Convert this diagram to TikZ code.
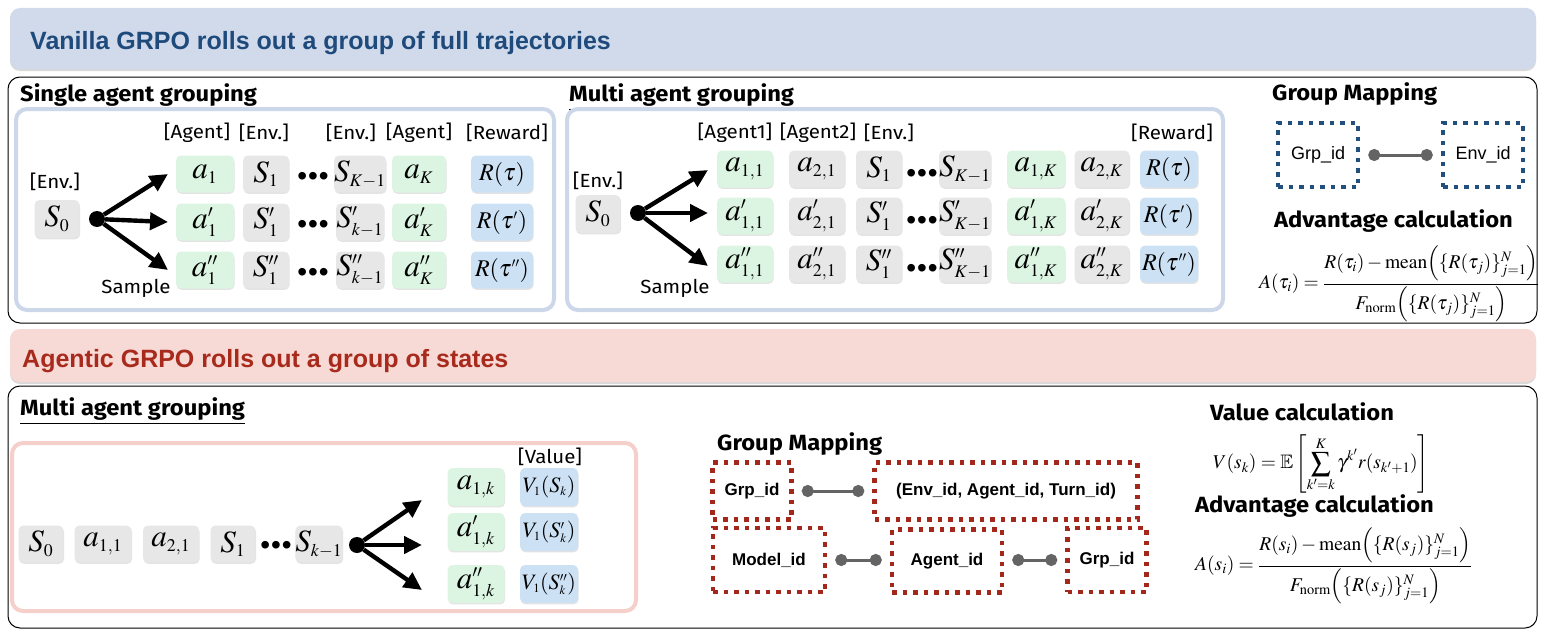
\documentclass[tikz,border=0pt]{standalone}
\usepackage{mathptmx}
\usepackage{amssymb}
\usepackage{fontspec}
\setmainfont{Liberation Serif}
\newfontfamily\headfont{Liberation Sans}
\newfontfamily\handfont[FakeStretch=1.08]{Fira Sans}
\DeclareMathSizes{20}{20}{11.5}{9}
\usetikzlibrary{arrows.meta,shadows}
\definecolor{grpNavy}{HTML}{1F4A7C}
\definecolor{grpBand}{HTML}{D1DAEB}
\definecolor{grpIce}{HTML}{CCD7EA}
\definecolor{grpBrick}{HTML}{A82A1C}
\definecolor{grpBlush}{HTML}{F7D9D5}
\definecolor{grpRose}{HTML}{F5CFCA}
\definecolor{grpMint}{HTML}{DCF5E2}
\definecolor{grpGrey}{HTML}{E7E7E7}
\definecolor{grpSky}{HTML}{CCE1F4}
\definecolor{grpSlate}{HTML}{646464}
\definecolor{grpMapBlue}{HTML}{21507F}
\definecolor{grpMapRed}{HTML}{A3281B}
\tikzset{
  grp panel/.style={draw=black, line width=1pt, rounded corners=12pt},
  grp banner/.style={rounded corners=10pt, drop shadow={opacity=.3, shadow xshift=0pt, shadow yshift=-2pt}},
  grp title/.style={font=\headfont\bfseries\fontsize{25}{27}\selectfont, anchor=base west, inner sep=0pt},
  grp frame/.style={line width=4pt, rounded corners=11pt, fill=white},
  grp head/.style={font=\handfont\bfseries\fontsize{22}{24}\selectfont, anchor=base west, inner sep=0pt},
  grp tag/.style={font=\handfont\fontsize{19}{21}\selectfont, inner sep=0pt},
  grp cell/.style={rounded corners=5pt, minimum height=37pt, minimum width=46pt, inner sep=0pt,
    font=\fontsize{20}{22}\selectfont, drop shadow={opacity=.22, shadow xshift=.6pt, shadow yshift=-1.4pt}},
  grp act/.style={grp cell, fill=grpMint, minimum width=56pt},
  grp env/.style={grp cell, fill=grpGrey},
  grp rew/.style={grp cell, fill=grpSky, minimum width=58pt},
  grp hub/.style={circle, fill=black, minimum size=16pt, inner sep=0pt},
  grp sample/.style={line width=4.4pt, -{Triangle[length=18pt,width=17pt]}},
  grp dots/.style={font=\headfont\fontsize{28}{28}\selectfont, anchor=base, inner sep=0pt},
  grp id/.style={line width=4.5pt, dash pattern=on 4.5pt off 6pt, font=\headfont\fontsize{18}{20}\selectfont},
  grp bold id/.style={grp id, draw=grpMapRed, font=\headfont\bfseries\fontsize{17}{19}\selectfont},
  grp link/.style={draw=grpSlate, line width=3pt, {Circle[length=12pt,width=12pt]}-{Circle[length=12pt,width=12pt]}, shorten <=8pt, shorten >=8pt},
  grp math/.style={font=\fontsize{19.5}{21}\selectfont, inner sep=0pt, anchor=west},
}
\newcommand{\grpdots}{\textbullet\kern1pt\textbullet\kern1pt\textbullet}
\newcommand{\grpm}[2][1.55]{\scalebox{#1}{$#2$}}

\begin{document}
\begin{tikzpicture}[x=1pt,y=-1pt]
  \useasboundingbox (0,0) rectangle (1546,642);
  % vanilla band and panel
  \fill[grp banner, fill=grpBand] (10,8) rectangle (1536,69);
  \node[grp title, text=grpNavy] (vtitle) at (30,50) {Vanilla GRPO rolls out a group of full trajectories};
  \draw[grp panel] (8,77) rectangle (1537,323);

  % single agent grouping
  \node[grp head] (shead) at (20,101) {\underline{Single agent grouping}};
  \draw[grp frame, draw=grpIce] (16,109) rectangle (554,310);
  \node[grp tag] (stag1) at (197,133) {[Agent]};
  \node[grp tag] (stag2) at (264,133) {[Env.]};
  \node[grp tag] (stag3) at (351,133) {[Env.]};
  \node[grp tag] (stag4) at (419,133) {[Agent]};
  \node[grp tag] (stag5) at (507,133) {[Reward]};
  \node[grp tag] (senv) at (55,182) {[Env.]};
  \node[grp env, minimum width=45pt, minimum height=38pt] (ss0) at (57,219) {\grpm{S_0}};
  \node[grp hub] (shub) at (97,219) {};
  \node[grp tag] (ssample) at (136,288) {Sample};
  \foreach \r/\y/\p/\kk in {1/174//K,2/222/'/k,3/270/''/k}{
    \coordinate (stip\r) at (168,\y);
    \draw[grp sample] (shub) -- (stip\r);
    \node[grp act, minimum width=58pt] (sa\r) at (205,\y) {\grpm{a\p_1}};
    \node[grp env] (ss\r) at (266,\y) {\grpm{S\p_1}};
    \node[grp dots] (sd\r) at (313,\y+11) {\grpdots};
    \node[grp env, minimum width=48pt] (sk\r) at (360,\y) {\grpm{S\p_{\kk-1}}};
    \node[grp act, minimum width=54pt] (sak\r) at (419,\y) {\grpm{a\p_K}};
    \node[grp rew, minimum width=62pt] (sr\r) at (502,\y) {\grpm[1.2]{R(\tau\p)}};
  }

  % multi agent grouping
  \node[grp head] (mhead) at (569,101) {\underline{Multi agent grouping}};
  \draw[grp frame, draw=grpIce] (567,109) rectangle (1223,310);
  \node[grp tag] (mtag1) at (735,133) {[Agent1]};
  \node[grp tag] (mtag2) at (818,133) {[Agent2]};
  \node[grp tag] (mtag3) at (889,133) {[Env.]};
  \node[grp tag] (mtag4) at (1172,133) {[Reward]};
  \node[grp tag] (menv) at (598,181) {[Env.]};
  \node[grp env, minimum width=45pt, minimum height=38pt] (ms0) at (598,214) {\grpm{S_0}};
  \node[grp hub] (mhub) at (638,213) {};
  \node[grp tag] (msample) at (675,288) {Sample};
  \foreach \r/\y/\ty/\p in {1/169/170/,2/216/213/',3/264/266/''}{
    \coordinate (mtip\r) at (708,\ty);
    \draw[grp sample] (mhub) -- (mtip\r);
    \node[grp act] (ma\r) at (745,\y) {\grpm{a\p_{1,1}}};
    \node[grp env, minimum width=56pt] (mb\r) at (817,\y) {\grpm{a\p_{2,1}}};
    \node[grp env] (ms\r) at (879,\y) {\grpm{S\p_1}};
    \node[grp dots] (md\r) at (922,\y+13) {\grpdots};
    \node[grp env, minimum width=48pt] (mk\r) at (965,\y) {\grpm{S\p_{K-1}}};
    \node[grp act, minimum width=58pt] (mak\r) at (1036,\y) {\grpm{a\p_{1,K}}};
    \node[grp env, minimum width=55pt] (mbk\r) at (1102,\y) {\grpm{a\p_{2,K}}};
    \node[grp rew] (mr\r) at (1169,\y) {\grpm[1.2]{R(\tau\p)}};
  }

  % group mapping and advantage (vanilla)
  \node[grp head] (tmap) at (1272,100) {Group Mapping};
  \node[grp id, draw=grpMapBlue, minimum width=80pt, minimum height=64pt] (tgrp) at (1318,155) {Grp\_id};
  \node[grp id, draw=grpMapBlue, minimum width=80pt, minimum height=64pt] (tenv) at (1483,155) {Env\_id};
  \draw[grp link] (tgrp) -- (tenv);
  \node[grp head] (tadvh) at (1274,227) {Advantage calculation};
  \node[grp math] (tadv) at (1259,284) {$\displaystyle A(\tau_i)=\frac{R(\tau_i)-\mathrm{mean}\Big(\{R(\tau_j)\}_{j=1}^{N}\Big)}{F_{\mathrm{norm}}\Big(\{R(\tau_j)\}_{j=1}^{N}\Big)}$};

  % agentic band and panel
  \fill[grp banner, fill=grpBlush] (10,329) rectangle (1536,382);
  \node[grp title, text=grpBrick] (atitle) at (22,367) {Agentic GRPO rolls out a group of states};
  \draw[grp panel] (8,386) rectangle (1537,628);

  % multi agent grouping over states
  \node[grp head] (bhead) at (20,415) {\underline{Multi agent grouping}};
  \draw[grp frame, draw=grpRose] (12,443) rectangle (636,611);
  \node[grp tag] (bvalue) at (550,457) {[Value]};
  \node[grp env, minimum width=45pt] (bs0) at (41,544) {\grpm{S_0}};
  \node[grp env, minimum width=57pt] (ba1) at (103,544) {\grpm{a_{1,1}}};
  \node[grp env, minimum width=56pt] (ba2) at (171,544) {\grpm{a_{2,1}}};
  \node[grp env, minimum width=45pt] (bs1) at (233,544) {\grpm{S_1}};
  \node[grp dots] (bd) at (276,554) {\grpdots};
  \node[grp env, minimum width=45pt] (bsk) at (319,544) {\grpm{S_{k-1}}};
  \node[grp hub] (bhub) at (357,545) {};
  \foreach \r/\y/\ty/\p in {1/487/500/,2/532/545/',3/584/590/''}{
    \coordinate (btip\r) at (422,\ty);
    \draw[grp sample] (bhub) -- (btip\r);
    \node[grp act, minimum width=57pt, minimum height=38pt] (bak\r) at (476,\y) {\grpm{a\p_{1,k}}};
    \node[grp rew, minimum height=38pt] (bv\r) at (549,\y) {\grpm[1.1]{V_1(S\p_k)}};
  }

  % group mapping (agentic)
  \node[grp head] (bmap) at (717,450) {Group Mapping};
  \node[grp bold id, minimum width=79pt, minimum height=57pt] (bgrp) at (752,491) {Grp\_id};
  \node[grp bold id, minimum width=263pt, minimum height=57pt] (beat) at (1006,491) {(Env\_id, Agent\_id, Turn\_id)};
  \node[grp bold id, minimum width=112pt, minimum height=64pt] (bmodel) at (769,560) {Model\_id};
  \node[grp bold id, minimum width=110pt, minimum height=63pt] (bagent) at (947,561) {Agent\_id};
  \node[grp bold id, minimum width=79pt, minimum height=64pt] (bgrp2) at (1107,560) {Grp\_id};
  \draw[grp link] (bgrp) -- (beat);
  \draw[grp link] (bmodel.east) -- (bagent.west |- bmodel.east);
  \draw[grp link] (bagent.east |- bmodel.east) -- (bgrp2.west);

  % value and advantage (agentic)
  \node[grp head] (bvalh) at (1210,420) {Value calculation};
  \node[grp math] (bvalf) at (1213,464) {$\displaystyle V(s_k)=\mathbb{E}\left[\sum_{k'=k}^{K}\gamma^{k'}r(s_{k'+1})\right]$};
  \node[grp head] (badvh) at (1195,512) {Advantage calculation};
  \node[grp math] (badv) at (1195,566) {$\displaystyle A(s_i)=\frac{R(s_i)-\mathrm{mean}\Big(\{R(s_j)\}_{j=1}^{N}\Big)}{F_{\mathrm{norm}}\Big(\{R(s_j)\}_{j=1}^{N}\Big)}$};
\end{tikzpicture}
\end{document}
